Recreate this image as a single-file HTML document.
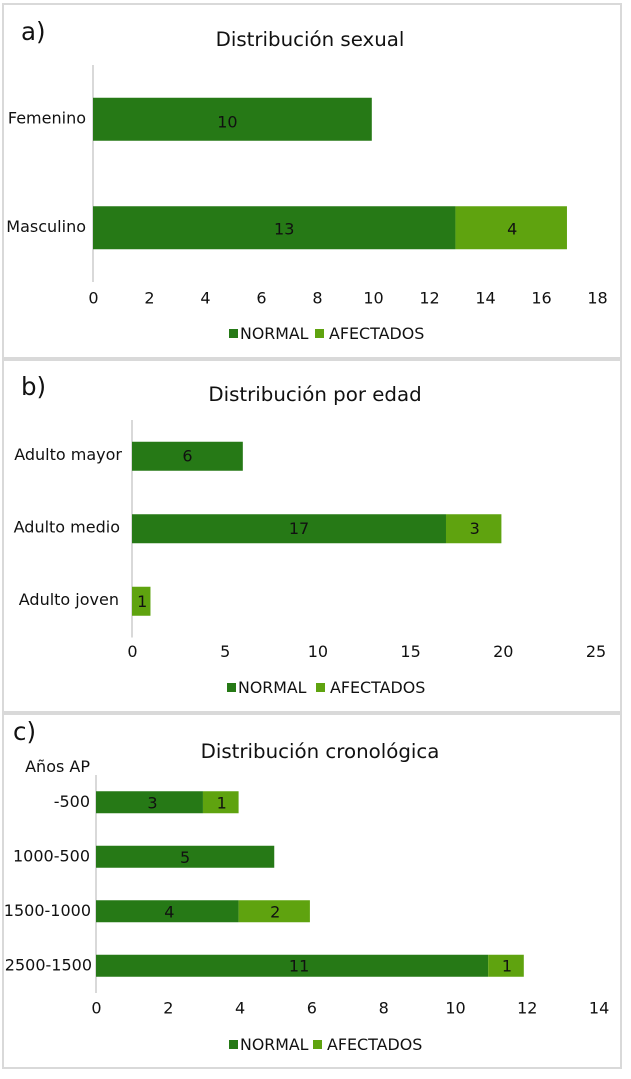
<!DOCTYPE html>
<html lang="es">
<head>
<meta charset="utf-8">
<title>Distribución</title>
<style>
html,body{margin:0;padding:0;background:#fff;width:631px;height:1079px;overflow:hidden}
svg{display:block}
text{font-family:"DejaVu Sans","Liberation Sans",sans-serif;fill:#111}
</style>
</head>
<body>
<svg id="fig" width="631" height="1079" viewBox="0 0 631 1079" xmlns="http://www.w3.org/2000/svg"></svg>
<script>
// Panel a
const sexCategories = ['Femenino', 'Masculino'];
const sexNormal = [10, 13];
const sexAfectados = [0, 4];
const sexTicks = [0, 2, 4, 6, 8, 10, 12, 14, 16, 18];
// Panel b
const ageCategories = ['Adulto mayor', 'Adulto medio', 'Adulto joven'];
const ageNormal = [6, 17, 0];
const ageAfectados = [0, 3, 1];
const ageTicks = [0, 5, 10, 15, 20, 25];
// Panel c
const chronoCategories = ['-500', '1000-500', '1500-1000', '2500-1500'];
const chronoNormal = [3, 5, 4, 11];
const chronoAfectados = [1, 0, 2, 1];
const chronoTicks = [0, 2, 4, 6, 8, 10, 12, 14];

const NS = 'http://www.w3.org/2000/svg';
const fig = document.getElementById('fig');
const COLOR_NORMAL = '#267916';
const COLOR_AFECT = '#5fa30f';

function el(tag, attrs, parent, txt) {
  const e = document.createElementNS(NS, tag);
  for (const k in attrs) e.setAttribute(k, attrs[k]);
  if (txt !== undefined) e.textContent = txt;
  (parent || fig).appendChild(e);
  return e;
}

function drawChart(c) {
  const g = el('g', {}, fig);
  
  

  const panel = el('rect', {x: c.panel[0], y: c.panel[1], width: c.panel[2], height: c.panel[3], fill: '#fff', stroke: '#d9d9d9', 'stroke-width': 2}, g);
  
  

  const letter = el('text', {x: c.letterX, y: c.letterY, 'font-size': 24.5}, g, c.letter);
  
  

  const title = el('text', {x: c.titleX, y: c.titleY, 'font-size': 19.8, 'text-anchor': 'middle'}, g, c.title);
  
  

  const xScale = v => c.x0 + v * c.unit;
  const tickScale = v => c.x0 + 0.5 + v * c.tickUnit;
  const yScale = i => c.axisTop + (i + 0.5) * c.step;

  const axis = el('line', {x1: c.x0, x2: c.x0, y1: c.axisTop, y2: c.axisTop + c.step * c.categories.length, stroke: '#d9d9d9', 'stroke-width': 2}, g);
  
  

  c.categories.forEach((cat, i) => {
    const label = el('text', {x: c.labelX + c.catNudge[i], y: yScale(i) + c.catDy, 'font-size': 16, 'text-anchor': 'end'}, g, cat);
    
    

    const y = yScale(i) - c.barH / 2;
    const n = c.normal[i];
    const a = c.afectados[i];
    if (n > 0) {
      const b = el('rect', {x: xScale(0), y: y, width: xScale(n) - xScale(0), height: c.barH, fill: COLOR_NORMAL}, g);
      
      
      const t = el('text', {x: xScale(n / 2) + c.nudge[i], y: yScale(i) + c.valDy[i], 'font-size': 16, 'text-anchor': 'middle'}, g, n);
      
      
    }
    if (a > 0) {
      const b = el('rect', {x: xScale(n), y: y, width: xScale(n + a) - xScale(n), height: c.barH, fill: COLOR_AFECT}, g);
      
      
      const t = el('text', {x: xScale(n + a / 2) + 1, y: yScale(i) + c.valDy[i], 'font-size': 16, 'text-anchor': 'middle'}, g, a);
      
      
    }
  });

  c.ticks.forEach(v => {
    const t = el('text', {x: tickScale(v), y: c.tickY, 'font-size': 16, 'text-anchor': 'middle'}, g, v);
    
    
  });

  const s1 = el('rect', {x: c.leg[0], y: c.legY - 10, width: 9, height: 9, fill: COLOR_NORMAL}, g);
  
  
  const t1 = el('text', {x: c.leg[0] + 11, y: c.legY, 'font-size': 15.8}, g, 'NORMAL');
  
  
  const s2 = el('rect', {x: c.leg[1], y: c.legY - 10, width: 9, height: 9, fill: COLOR_AFECT}, g);
  
  
  const t2 = el('text', {x: c.leg[1] + 14, y: c.legY, 'font-size': 15.9}, g, 'AFECTADOS');
  
  
}

drawChart({id: 'sex', panel: [3, 4, 618, 354], letter: 'a)', letterX: 21, letterY: 40, title: 'Distribución sexual', titleX: 310, titleY: 46,
  categories: sexCategories, normal: sexNormal, afectados: sexAfectados, ticks: sexTicks,
  x0: 93, unit: 27.88, tickUnit: 28, axisTop: 65, step: 108.5, barH: 43, labelX: 86, catNudge: [0, 0], catDy: 4, nudge: [-5, 10], valDy: [8, 6.5], tickY: 303.5, leg: [229, 315], legY: 339});

drawChart({id: 'age', panel: [3, 360, 618, 352], letter: 'b)', letterX: 21, letterY: 395, title: 'Distribución por edad', titleX: 315, titleY: 401,
  categories: ageCategories, normal: ageNormal, afectados: ageAfectados, ticks: ageTicks,
  x0: 132, unit: 18.47, tickUnit: 18.54, axisTop: 420, step: 72.5, barH: 29, labelX: 122, catNudge: [0, -2, -3], catDy: 3.5, nudge: [0, 10, 0], valDy: [5, 5, 5.5], tickY: 657, leg: [227, 316], legY: 693});

drawChart({id: 'chrono', panel: [3, 714, 618, 354], letter: 'c)', letterX: 13, letterY: 740, title: 'Distribución cronológica', titleX: 320, titleY: 758,
  categories: chronoCategories, normal: chronoNormal, afectados: chronoAfectados, ticks: chronoTicks,
  x0: 96, unit: 35.65, tickUnit: 35.9, axisTop: 775, step: 54.5, barH: 22, labelX: 91, catNudge: [-1, -1, 0, 1], catDy: 4.5, nudge: [3, 0, 2, 7], valDy: [6, 6, 6, 5.5], tickY: 1013.5, leg: [229, 313], legY: 1050});

const unitLabel = el('text', {x: 90, y: 772, 'font-size': 16, 'text-anchor': 'end'}, fig, 'Años AP');


</script>
</body>
</html>
